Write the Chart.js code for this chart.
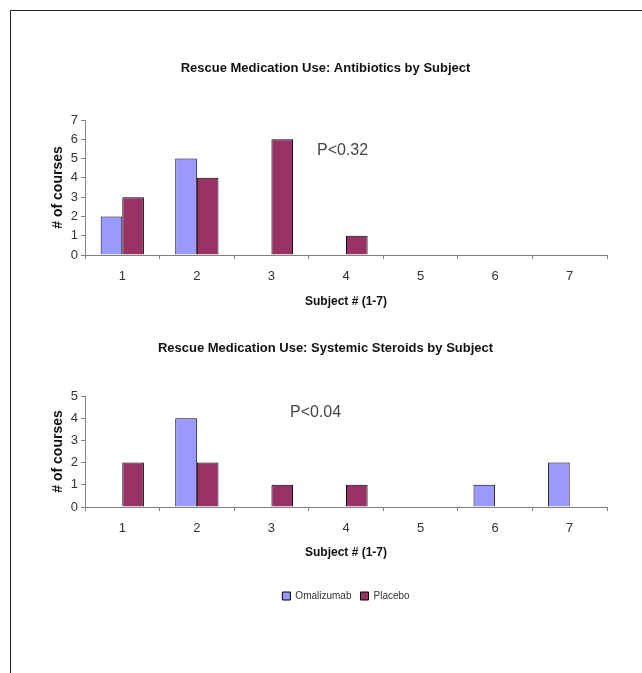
<!DOCTYPE html>
<html><head><meta charset="utf-8">
<script src="https://cdn.jsdelivr.net/npm/chart.js@4"></script>
<style>
html,body{margin:0;padding:0;background:#fff;}
body{width:642px;height:673px;position:relative;overflow:hidden;font-family:'Liberation Sans',Arial,sans-serif;}
#frame{position:absolute;left:10px;top:10px;width:640px;height:670px;border-top:1px solid #222;border-left:1px solid #222;}
canvas{position:absolute;left:0;}
.pval{position:absolute;font-size:16px;color:#444;line-height:1;white-space:nowrap;}
</style></head><body>
<div id="frame"></div>
<canvas id="c1" width="642" height="280" style="top:40px"></canvas>
<canvas id="c2" width="642" height="291" style="top:320px"></canvas>
<div class="pval" style="left:317px;top:142px">P&lt;0.32</div>
<div class="pval" style="left:290px;top:404px">P&lt;0.04</div>
<script>
const subjects = ['1','2','3','4','5','6','7'];
const seriesNames = ['Omalizumab','Placebo'];
const antibioticsOmalizumab = [2,5,0,0,0,0,0];
const antibioticsPlacebo    = [3,4,6,1,0,0,0];
const steroidsOmalizumab    = [0,4,0,0,0,1,2];
const steroidsPlacebo       = [2,2,1,1,0,0,0];
const title1 = 'Rescue Medication Use: Antibiotics by Subject';
const title2 = 'Rescue Medication Use: Systemic Steroids by Subject';
const xTitle = 'Subject # (1-7)';
const yTitle = '# of courses';

const FONT = "'Liberation Sans', Arial, sans-serif";
const COL_O = '#9999FF', COL_P = '#993366';
const AXIS = '#808080', TXT = '#333';

function makeChart(id, title, titlePad, omal, plac, yMax, xHeight, xTitlePadB, showLegend) {
  return new Chart(document.getElementById(id), {
    type: 'bar',
    data: {
      labels: subjects,
      datasets: [
        {label: seriesNames[0], data: omal, backgroundColor: COL_O, borderColor: '#000', borderWidth: 1, borderSkipped: 'start'},
        {label: seriesNames[1], data: plac, backgroundColor: COL_P, borderColor: '#000', borderWidth: 1, borderSkipped: 'start'}
      ]
    },
    options: {
      responsive: false, animation: false,
      layout: {padding: {left: 44, right: 35, top: 0, bottom: 0}},
      datasets: {bar: {categoryPercentage: 0.58, barPercentage: 1.0}},
      plugins: {
        tooltip: {enabled: false},
        title: {display: true, text: title, color: '#111', font: {family: FONT, size: 13, weight: 'bold'}, padding: titlePad},
        legend: {
          display: showLegend, position: 'bottom', fullSize: false,
          labels: {boxWidth: 8, boxHeight: 8, padding: 9, color: TXT, font: {family: FONT, size: 10}}
        }
      },
      scales: {
        x: {
          grid: {drawOnChartArea: false, drawTicks: true, tickLength: 4, color: AXIS},
          border: {display: true, color: AXIS, width: 1},
          ticks: {color: TXT, padding: 10, font: {family: FONT, size: 13}},
          title: {display: true, text: xTitle, color: '#111', font: {family: FONT, size: 12, weight: 'bold'}, padding: {top: 0, bottom: xTitlePadB}},
          afterFit: s => { s.height = xHeight; }
        },
        y: {
          min: 0, max: yMax,
          grid: {drawOnChartArea: false, drawTicks: true, tickLength: 4, color: AXIS},
          border: {display: true, color: AXIS, width: 1},
          ticks: {stepSize: 1, color: TXT, padding: 3, font: {family: FONT, size: 13}},
          title: {display: true, text: yTitle, color: '#111', font: {family: FONT, size: 14, weight: 'bold'}, padding: {top: 5.6, bottom: 0}},
          afterFit: s => { s.width = 41; }
        }
      }
    }
  });
}

makeChart('c1', title1, {top: 20.7, bottom: 43.7}, antibioticsOmalizumab, antibioticsPlacebo, 7, 65, 10.8, false);
makeChart('c2', title2, {top: 20.2, bottom: 40.2}, steroidsOmalizumab, steroidsPlacebo, 5, 75, 21.8, true);
</script>
</body></html>
